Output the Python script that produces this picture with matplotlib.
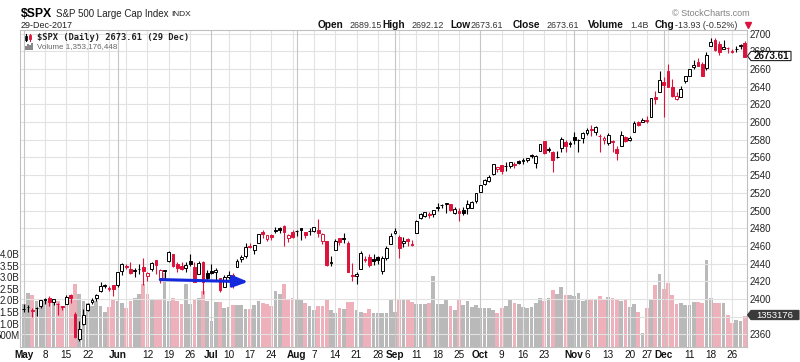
import matplotlib
matplotlib.use("Agg")
import matplotlib.pyplot as plt
import numpy as np
import pandas as pd
from matplotlib.patches import Rectangle, Polygon
from matplotlib.lines import Line2D

plt.rcParams['font.family'] = ['Liberation Sans', 'DejaVu Sans']

# ---------------- data ----------------
holidays = ['2017-05-29', '2017-07-04', '2017-09-04', '2017-11-23', '2017-12-25']
dates = [d for d in pd.bdate_range('2017-05-01', '2017-12-29') if d.strftime('%Y-%m-%d') not in holidays]
prev_close = 2384.20

opens = [2388.5, 2391.05, 2386.5, 2389.79, 2392.37, 2399.94, 2401.58, 2396.79, 2394.84, 2392.44, 2393.98,
         2404.55, 2382.95, 2354.69, 2371.37, 2387.21, 2397.04, 2401.41, 2409.54, 2414.50, 2411.67, 2415.63,
         2415.65, 2431.28, 2437.83, 2434.27, 2432.03, 2434.27, 2436.39, 2425.88, 2434.15, 2443.75, 2424.14,
         2431.24, 2442.55, 2450.66, 2439.31, 2437.40, 2434.65, 2443.32, 2436.34, 2428.70, 2442.38, 2429.20,
         2431.39, 2430.78, 2423.44, 2413.52, 2424.51, 2427.35, 2435.75, 2444.99, 2449.16, 2459.50, 2455.88,
         2463.85, 2475.56, 2467.40, 2472.04, 2477.88, 2479.97, 2482.76, 2469.12, 2475.94,
         2477.10, 2480.38, 2476.03, 2476.88, 2477.14, 2478.35, 2465.35, 2465.38, 2441.04, 2454.96, 2468.66,
         2468.63, 2462.95, 2427.64, 2425.50, 2433.75, 2444.88, 2447.91, 2444.72, 2447.35, 2431.94, 2446.06,
         2462.65,
         2474.42, 2470.35, 2463.83, 2468.06, 2462.25, 2474.52, 2491.94, 2493.89, 2494.56, 2495.67, 2502.51,
         2506.29, 2506.84, 2507.16, 2497.26, 2499.39, 2501.04, 2503.30, 2503.41, 2510.42,
         2521.20, 2530.34, 2533.48, 2540.86, 2547.44, 2551.39, 2549.99, 2550.62, 2552.88, 2555.66, 2555.57,
         2557.17, 2562.87, 2553.39, 2567.56, 2578.08, 2568.66, 2566.52, 2560.08, 2570.26, 2577.75, 2575.99,
         2583.21, 2579.46, 2581.93, 2587.47, 2592.11, 2588.71, 2584.00, 2580.18, 2576.53, 2577.75, 2569.45,
         2572.95, 2582.94, 2579.49, 2589.17, 2600.31, 2600.42, 2602.66, 2605.94, 2627.82, 2633.93,
         2645.10, 2657.19, 2639.78, 2626.24, 2628.38, 2646.21, 2652.19, 2661.73, 2667.59, 2665.87, 2660.63,
         2685.92, 2692.71, 2688.18, 2683.02, 2684.22, 2679.09, 2682.10, 2686.10, 2689.15]
highs = [2394.5, 2392.93, 2389.82, 2391.43, 2399.29, 2401.36, 2403.87, 2399.74, 2395.72, 2392.44, 2404.05,
         2405.77, 2384.87, 2375.74, 2389.06, 2395.46, 2400.85, 2405.58, 2418.71, 2416.68, 2415.26, 2415.99,
         2430.06, 2440.23, 2439.55, 2441.49, 2435.28, 2439.27, 2446.20, 2430.38, 2441.49, 2443.75, 2433.95,
         2433.15, 2453.82, 2450.66, 2442.23, 2441.62, 2441.40, 2450.42, 2441.55, 2442.97, 2442.73, 2432.71,
         2439.17, 2434.90, 2424.28, 2426.92, 2432.00, 2429.30, 2445.76, 2449.32, 2463.54, 2462.82, 2460.92,
         2473.83, 2477.62, 2472.54, 2473.10, 2481.24, 2481.69, 2484.04, 2473.53, 2477.96,
         2478.51, 2480.38, 2476.03, 2480.00, 2480.95, 2490.87, 2474.41, 2465.38, 2448.09, 2468.22, 2468.90,
         2474.93, 2465.02, 2440.27, 2430.58, 2454.77, 2448.91, 2450.39, 2451.32, 2449.12, 2449.19, 2460.31,
         2475.01,
         2480.38, 2471.97, 2469.64, 2468.62, 2467.11, 2488.95, 2496.77, 2498.37, 2498.43, 2500.23, 2508.32,
         2507.84, 2508.85, 2507.16, 2503.47, 2502.54, 2503.51, 2511.75, 2510.81, 2519.44,
         2529.23, 2535.13, 2540.53, 2552.51, 2549.41, 2551.82, 2555.23, 2555.24, 2555.33, 2557.65, 2559.47,
         2559.71, 2564.11, 2562.36, 2575.44, 2578.29, 2572.18, 2567.40, 2567.07, 2582.98, 2580.18, 2578.29,
         2588.40, 2581.11, 2588.42, 2593.38, 2597.02, 2595.47, 2586.50, 2583.81, 2587.66, 2579.66, 2572.84,
         2590.09, 2583.96, 2584.64, 2601.19, 2600.94, 2604.21, 2606.41, 2627.69, 2634.89, 2657.74,
         2650.62, 2665.19, 2648.72, 2634.41, 2640.99, 2651.65, 2660.33, 2669.72, 2671.88, 2668.09, 2679.63,
         2694.97, 2694.44, 2691.01, 2692.64, 2685.35, 2682.74, 2685.64, 2687.66, 2692.12]
lows = [2384.8, 2385.82, 2379.75, 2380.35, 2389.38, 2393.92, 2392.44, 2392.79, 2381.74, 2387.19, 2393.94,
        2396.05, 2356.21, 2352.72, 2370.43, 2386.92, 2393.88, 2397.99, 2408.01, 2412.20, 2409.43, 2403.59,
        2413.54, 2427.71, 2434.32, 2428.70, 2424.75, 2427.94, 2415.70, 2419.97, 2431.28, 2428.34, 2418.53,
        2422.88, 2441.79, 2436.60, 2430.74, 2433.27, 2431.11, 2437.03, 2419.38, 2428.02, 2405.70, 2421.65,
        2428.69, 2422.05, 2407.70, 2413.52, 2422.27, 2412.79, 2435.75, 2441.69, 2446.69, 2457.16, 2450.34,
        2463.85, 2468.43, 2465.06, 2466.32, 2474.91, 2474.94, 2459.93, 2464.66, 2468.53,
        2471.14, 2466.48, 2468.85, 2472.08, 2475.88, 2470.32, 2462.08, 2437.75, 2437.85, 2454.96, 2461.61,
        2463.86, 2430.01, 2420.69, 2417.35, 2433.67, 2441.42, 2436.19, 2437.99, 2439.03, 2428.20, 2443.77,
        2462.65,
        2473.85, 2446.55, 2459.20, 2460.29, 2459.40, 2474.52, 2490.37, 2492.14, 2491.35, 2493.16, 2499.92,
        2503.19, 2496.67, 2499.00, 2496.54, 2488.03, 2495.12, 2495.91, 2502.93, 2507.99,
        2520.40, 2528.85, 2531.80, 2540.02, 2543.79, 2541.60, 2544.86, 2547.95, 2548.31, 2552.09, 2552.64,
        2554.69, 2559.67, 2547.92, 2567.56, 2564.33, 2565.58, 2544.00, 2559.80, 2565.94, 2566.56, 2572.15,
        2574.92, 2566.17, 2576.77, 2585.66, 2584.35, 2585.02, 2566.33, 2575.57, 2574.48, 2566.56, 2557.45,
        2572.95, 2577.62, 2578.24, 2589.17, 2595.23, 2600.42, 2598.87, 2605.44, 2620.32, 2633.93,
        2605.52, 2639.03, 2627.73, 2624.75, 2628.38, 2644.10, 2651.47, 2659.78, 2662.85, 2652.01, 2659.14,
        2685.92, 2680.74, 2676.11, 2682.40, 2678.13, 2677.96, 2678.91, 2682.69, 2673.61]
closes = [2388.33, 2391.17, 2388.13, 2389.52, 2399.29, 2399.38, 2396.92, 2399.63, 2394.44, 2390.90, 2402.32,
          2400.67, 2357.03, 2365.72, 2381.73, 2394.02, 2398.42, 2404.39, 2415.07, 2415.82, 2412.91, 2411.80,
          2430.06, 2439.07, 2436.10, 2429.33, 2433.14, 2433.79, 2431.77, 2429.39, 2440.35, 2437.92, 2432.46,
          2433.15, 2453.46, 2437.03, 2435.61, 2434.50, 2438.30, 2439.07, 2419.38, 2440.69, 2419.70, 2423.41,
          2429.01, 2432.54, 2409.75, 2425.18, 2427.43, 2425.53, 2443.25, 2447.83, 2459.27, 2459.14, 2460.61,
          2473.83, 2473.45, 2472.54, 2469.91, 2477.13, 2477.83, 2475.42, 2472.10, 2470.30,
          2476.35, 2477.57, 2472.16, 2476.83, 2480.91, 2474.92, 2474.02, 2438.21, 2441.32, 2465.84, 2464.61,
          2468.11, 2430.01, 2425.55, 2428.37, 2452.51, 2444.04, 2438.97, 2443.05, 2444.24, 2446.30, 2457.59,
          2471.65,
          2476.55, 2457.85, 2465.54, 2465.10, 2461.43, 2488.11, 2496.48, 2498.37, 2495.62, 2500.23, 2503.87,
          2506.65, 2508.24, 2500.60, 2502.22, 2496.66, 2496.84, 2507.04, 2510.06, 2519.36,
          2529.12, 2534.58, 2537.74, 2552.07, 2549.33, 2544.73, 2550.64, 2555.24, 2550.93, 2553.17, 2557.64,
          2559.36, 2561.26, 2562.10, 2575.21, 2564.98, 2569.13, 2557.15, 2560.40, 2581.07, 2572.83, 2575.26,
          2579.36, 2579.85, 2587.84, 2591.13, 2590.64, 2594.38, 2584.62, 2582.30, 2584.84, 2578.87, 2564.62,
          2585.64, 2578.85, 2582.14, 2599.03, 2597.08, 2602.42, 2601.42, 2627.04, 2626.07, 2647.58,
          2642.22, 2639.44, 2629.57, 2629.27, 2636.98, 2651.50, 2659.99, 2664.11, 2662.85, 2652.01, 2675.81,
          2690.16, 2681.47, 2679.25, 2684.57, 2683.34, 2680.50, 2682.62, 2687.54, 2673.61]
volumes_b = [1.87, 2.34, 2.24, 1.98, 1.91, 1.98, 1.98, 1.91, 1.98, 1.76, 1.98, 2.12, 2.70, 2.30, 1.98, 1.91,
             1.76, 1.98, 1.76, 1.50, 1.72, 2.05,
             1.98, 1.91, 1.69, 1.98, 2.12, 2.26, 2.70, 2.30, 2.01, 2.01, 2.01, 3.20, 1.98, 2.12, 1.98, 1.83,
             2.70, 1.83, 2.01, 2.12, 2.41, 2.00,
             1.12, 1.95, 1.95, 1.69, 1.72, 1.80, 1.80, 1.80, 1.62, 1.62, 1.80, 1.98, 1.91, 1.83, 1.76, 2.41,
             2.27, 2.70, 2.05, 2.09,
             2.05, 2.01, 1.91, 1.76, 1.58, 1.76, 1.76, 2.05, 1.58, 1.48, 1.66, 1.63, 1.95, 1.94, 1.58, 1.52,
             1.48, 1.62, 1.48, 1.45, 1.45, 1.48, 2.05,
             1.50, 2.05, 2.01, 2.02, 1.95, 1.86, 1.86, 1.86, 1.88, 3.05, 1.86, 1.86, 2.08, 1.76, 1.59, 2.01,
             1.80, 1.98, 1.73, 1.79,
             1.69, 1.66, 1.66, 1.58, 1.48, 1.66, 1.76, 2.01, 1.90, 1.83, 1.72, 1.69, 1.72, 1.88, 2.09, 1.98,
             2.09, 2.44, 2.27, 2.58, 2.24, 2.24,
             2.19, 2.34, 1.98, 2.05, 2.01, 2.01, 2.19, 2.01, 2.16, 2.09, 2.05, 1.98, 2.01, 1.72, 1.86, 1.52,
             0.62, 1.66, 2.05, 2.66, 3.12,
             2.48, 2.77, 2.24, 1.86, 1.91, 1.80, 1.80, 1.95, 1.95, 1.91, 3.73, 2.12, 1.91, 1.91, 1.91, 1.38,
             1.05, 1.15, 1.12, 1.353]

price_ticks = [2360, 2380, 2400, 2420, 2440, 2460, 2480, 2500, 2520, 2540, 2560, 2580, 2600, 2620, 2640,
               2660, 2680, 2700]
hidden_price_labels = [2380]   # covered by the volume tag in the original
vol_ticks = [0.5, 1.0, 1.5, 2.0, 2.5, 3.0, 3.5, 4.0]
vol_tick_labels = ['500M', '1.0B', '1.5B', '2.0B', '2.5B', '3.0B', '3.5B', '4.0B']
x_labels = [('2017-05-01', 'May'), ('2017-05-08', '8'), ('2017-05-15', '15'), ('2017-05-22', '22'),
            ('2017-06-01', 'Jun'), ('2017-06-12', '12'), ('2017-06-19', '19'), ('2017-06-26', '26'),
            ('2017-07-03', 'Jul'), ('2017-07-10', '10'), ('2017-07-17', '17'), ('2017-07-24', '24'),
            ('2017-08-01', 'Aug'), ('2017-08-07', '7'), ('2017-08-14', '14'), ('2017-08-21', '21'),
            ('2017-08-28', '28'), ('2017-09-01', 'Sep'), ('2017-09-11', '11'), ('2017-09-18', '18'),
            ('2017-09-25', '25'), ('2017-10-02', 'Oct'), ('2017-10-09', '9'), ('2017-10-16', '16'),
            ('2017-10-23', '23'), ('2017-11-01', 'Nov'), ('2017-11-06', '6'), ('2017-11-13', '13'),
            ('2017-11-20', '20'), ('2017-11-27', '27'), ('2017-12-01', 'Dec'), ('2017-12-11', '11'),
            ('2017-12-18', '18'), ('2017-12-26', '26')]
months = {'May', 'Jun', 'Jul', 'Aug', 'Sep', 'Oct', 'Nov', 'Dec'}
arrow_start = ('2017-06-15', 2422.0)
arrow_end = ('2017-07-14', 2419.5)

# ---------------- layout ----------------
W, H = 800, 362
fig = plt.figure(figsize=(8, 3.62), dpi=100)
fig.patch.set_facecolor('white')
def fx(px): return px / W
def fy(py): return 1 - py / H

RED = '#dc143c'
GRID = '#e2e2e2'
MGRID = '#c6c6c6'

ax = fig.add_axes([fx(20), fy(347), fx(747) - fx(20), fy(30) - fy(347)])
axv = ax.twinx()
ax.set_zorder(axv.get_zorder() + 1)
ax.patch.set_visible(False)
axv.patch.set_facecolor('white')

idx = {d.strftime('%Y-%m-%d'): i for i, d in enumerate(dates)}
n = len(dates)
xs = np.arange(n)

# week / month starts for vertical grid
week_starts, month_starts = [], []
for i, d in enumerate(dates):
    if i == 0 or d.month != dates[i - 1].month:
        month_starts.append(i)
    elif d.isocalendar()[1] != dates[i - 1].isocalendar()[1]:
        week_starts.append(i)
for i in week_starts:
    ax.axvline(i, color=GRID, lw=0.8, zorder=0.5)
for i in month_starts:
    ax.axvline(i, color=MGRID, lw=0.8, zorder=0.6)
for p in price_ticks:
    ax.axhline(p, color=GRID, lw=0.8, zorder=0.5)

# volume bars
pcs = [prev_close] + closes[:-1]
up = [c >= pc for c, pc in zip(closes, pcs)]
vcols = ['#b9b9b9' if u else '#eeb0ba' for u in up]
axv.bar(xs, volumes_b, width=0.88, color=vcols, linewidth=0, zorder=1)
axv.set_ylim(0, 317 / 23.25)

# candles
w = 0.66
for i in range(n):
    o, h, l, c = opens[i], highs[i], lows[i], closes[i]
    col = 'black' if up[i] else RED
    ax.vlines(i, l, h, color=col, lw=0.8, zorder=3)
    if c > o:
        ax.add_patch(Rectangle((i - w / 2, o), w, c - o, facecolor='white', edgecolor=col, lw=0.7, zorder=4))
    elif c < o:
        ax.add_patch(Rectangle((i - w / 2, c), w, o - c, facecolor=col, edgecolor=col, lw=0.7, zorder=4))
    else:
        ax.hlines(c, i - w / 2, i + w / 2, color=col, lw=0.9, zorder=4)

# blue arrow annotation
ax.annotate('', xy=(idx[arrow_end[0]] + 0.6, arrow_end[1]), xytext=(idx[arrow_start[0]], arrow_start[1]),
            arrowprops=dict(arrowstyle='-|>,head_length=0.9,head_width=0.35', color='#1428dc', lw=2.2,
                            shrinkA=0, shrinkB=0), zorder=6)

ax.set_xlim(-0.87, 169.5)
ax.set_ylim(2345.8, 2704.0)

# axes styling
for a in (ax, axv):
    for s in a.spines.values():
        s.set_visible(False)
for s in ax.spines.values():
    s.set_visible(True)
    s.set_color('#c0c0c0')
    s.set_linewidth(0.8)

ax.yaxis.tick_right()
ax.set_yticks(price_ticks)
ax.set_yticklabels(['' if p in hidden_price_labels else str(p) for p in price_ticks])
ax.tick_params(axis='y', length=0, pad=2.2, labelsize=7, labelcolor='#222222')
axv.yaxis.tick_left()
axv.set_yticks(vol_ticks)
axv.set_yticklabels(vol_tick_labels)
axv.tick_params(axis='y', length=0, pad=0.5, labelsize=7, labelcolor='#222222')
axv.tick_params(axis='x', length=0, labelbottom=False)

xt = [idx[d] for d, _ in x_labels]
ax.set_xticks(xt)
ax.set_xticklabels([lab for _, lab in x_labels])
ax.tick_params(axis='x', length=0, pad=2.5, labelsize=7.2, labelcolor='#111111')
for t in ax.get_xticklabels():
    if t.get_text() in months:
        t.set_fontweight('bold')

# ---------------- header texts ----------------
fig.text(fx(21), fy(14), '$SPX', fontsize=8.8, fontweight='bold', va='center', ha='left')
fig.text(fx(56), fy(14), 'S&P 500 Large Cap Index', fontsize=7, va='center', ha='left', color='#222222')
fig.text(fx(171), fy(14), 'INDX', fontsize=6, va='center', ha='left', color='#222222')
fig.text(fx(21), fy(25), '29-Dec-2017', fontsize=6.5, va='center', ha='left', color='#222222')
fig.text(fx(672), fy(14), '\u00a9 StockCharts.com', fontsize=6.5, va='center', ha='left', color='#808080')

hdr = [(318, 'Open', True), (350, '2689.15', False), (382, 'High', True), (412, '2692.12', False),
       (450, 'Low', True), (471, '2673.61', False), (513, 'Close', True), (547, '2673.61', False),
       (588, 'Volume', True), (630, '1.4B', False), (655, 'Chg', True), (675, '-13.93 (-0.52%)', False)]
for px, s, b in hdr:
    fig.text(fx(px), fy(25.5), s, fontsize=7.3 if b else 6.4, fontweight='bold' if b else 'normal',
             va='center', ha='left', color='#111111' if b else '#333333')
fig.add_artist(Line2D([fx(748)], [fy(25)], marker='v', color=RED, markersize=4, transform=fig.transFigure))

# in-plot legend
fig.text(fx(37), fy(37), '$SPX (Daily) 2673.61 (29 Dec)', fontsize=6.3, family='DejaVu Sans Mono',
         fontweight='bold', va='center', ha='left', color='#222222')
fig.text(fx(37), fy(46.5), 'Volume 1,353,176,448', fontsize=5.8, va='center', ha='left', color='#666666')
# icons
fig.add_artist(Line2D([fx(26), fx(26)], [fy(34), fy(41)], color='black', lw=0.8, transform=fig.transFigure))
fig.add_artist(Rectangle((fx(25), fy(40)), fx(2), fy(36) - fy(40), facecolor='white', edgecolor='black',
                         lw=0.6, transform=fig.transFigure))
fig.add_artist(Line2D([fx(30), fx(30)], [fy(34), fy(41)], color=RED, lw=0.8, transform=fig.transFigure))
fig.add_artist(Rectangle((fx(29), fy(39)), fx(2), fy(35) - fy(39), facecolor=RED, edgecolor=RED,
                         lw=0.6, transform=fig.transFigure))
for k, hh in enumerate([4, 6, 5, 7]):
    fig.add_artist(Rectangle((fx(25 + 2 * k), fy(50)), fx(1.6), fy(50 - hh) - fy(50), facecolor='#888888',
                             lw=0, transform=fig.transFigure))

# last value tags
def tag(ypx, text, bold, face, edge, tcol, right):
    pts = [(fx(747.5), fy(ypx)), (fx(751), fy(ypx - 4.6)), (fx(right), fy(ypx - 4.6)),
           (fx(right), fy(ypx + 4.6)), (fx(751), fy(ypx + 4.6))]
    fig.add_artist(Polygon(pts, closed=True, facecolor=face, edgecolor=edge, lw=0.8,
                           transform=fig.transFigure, zorder=5))
    fig.text(fx((751 + right) / 2), fy(ypx), text, fontsize=7 if bold else 6.8,
             fontweight='bold' if bold else 'normal', va='center', ha='center', color=tcol, zorder=6)

tag(56, '2673.61', True, 'white', '#222222', '#111111', 791)
tag(315, '1353176', False, '#3a3a3a', '#3a3a3a', 'white', 799)

fig.savefig('out.png', dpi=100, facecolor='white')
